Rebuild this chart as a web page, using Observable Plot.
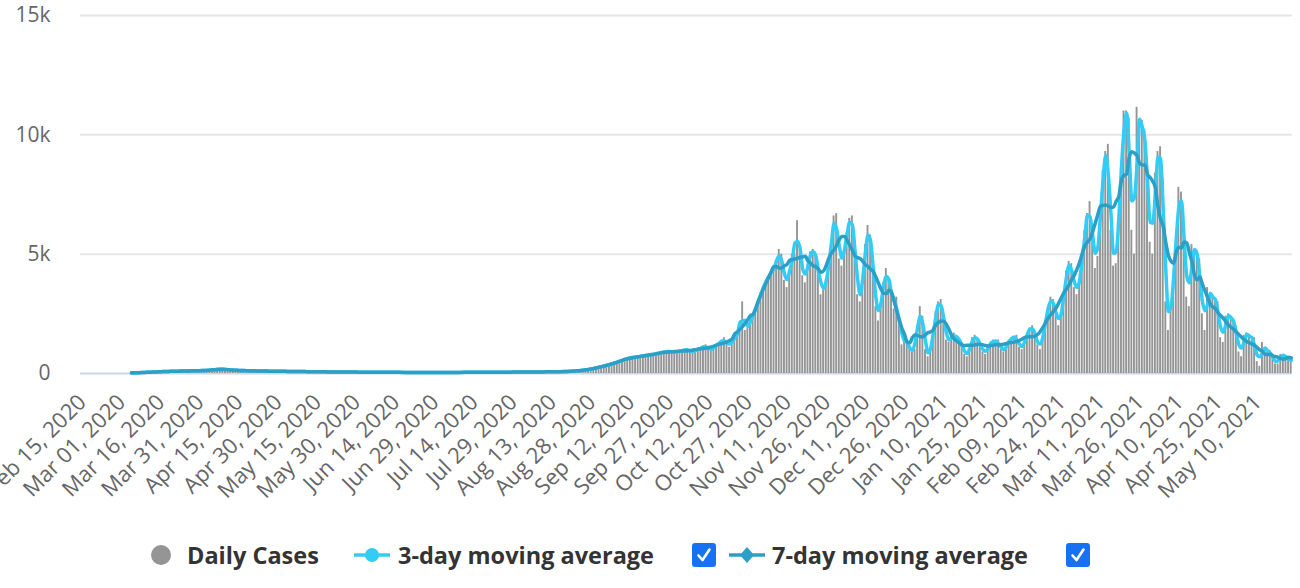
<!DOCTYPE html>
<html>
<head>
<meta charset="utf-8">
<script src="https://cdn.jsdelivr.net/npm/d3@7"></script>
<script src="https://cdn.jsdelivr.net/npm/@observablehq/plot@0.6"></script>
<style>
  html, body { margin: 0; padding: 0; background: #fff; }
  #wrap { position: relative; width: 1300px; height: 588px; overflow: hidden; font-family: "Open Sans", sans-serif; }
  #chart { position: absolute; left: 0; top: 0; }
  #legend { position: absolute; left: 0; top: 544px; width: 1300px; height: 26px; }
  #legend .sym { position: absolute; top: 0; height: 22px; }
  #legend .lbl { position: absolute; top: -3px; font-size: 23.5px; line-height: 28px; font-weight: bold; color: #333; white-space: nowrap; }
  #legend .cb { position: absolute; top: -1px; width: 24px; height: 24px; }
</style>
</head>
<body>
<div id="wrap">
  <div id="chart"></div>
  <div id="legend"></div>
</div>
<script>
// ---------------- DATA ----------------
const seriesNames = ["Daily Cases", "3-day moving average", "7-day moving average"];
const firstDay = "2020-03-05";   // first daily value
const axisStart = "2020-02-15";
const axisEnd = "2021-05-24";

// daily new cases, Mar 5 2020 - May 30 2020
const spring2020 = [
  20, 25, 30,
  35, 40, 45, 50, 55, 60, 65,
  70, 75, 80, 85, 90, 90, 95,
  95, 100, 100, 105, 105, 110, 110,
  115, 115, 120, 120, 125, 130, 135,
  145, 160, 180, 195, 190, 170, 155,
  145, 140, 135, 130, 125, 120, 120,
  115, 115, 110, 110, 105, 105, 100,
  100, 100, 95, 95, 95, 90, 90,
  90, 90, 85, 85, 85, 80, 80,
  80, 80, 75, 75, 75, 70, 70,
  70, 70, 70, 65, 65, 65, 65,
  65, 60, 60, 60, 60, 60, 60
];
// May 31 2020 - Aug 15 2020
const summer2020 = [
  55, 55, 55, 55, 55, 55, 55,
  50, 50, 50, 50, 50, 50, 50,
  50, 45, 50, 45, 45, 50, 45,
  45, 45, 45, 45, 45, 45, 45,
  45, 40, 45, 45, 40, 45, 45,
  45, 45, 45, 50, 45, 45, 50,
  50, 50, 50, 50, 50, 55, 50,
  55, 50, 55, 55, 55, 55, 55,
  55, 55, 60, 55, 60, 60, 60,
  60, 60, 60, 65, 65, 65, 65,
  65, 65, 70, 70, 70, 75, 75
];
// Aug 16 2020 - Jan 2 2021
const fall2020 = [
  75, 75, 80, 85, 90, 100, 110,
  120, 125, 135, 145, 165, 185, 205,
  240, 260, 280, 320, 340, 360, 400,
  450, 480, 500, 560, 600, 640, 650,
  700, 660, 680, 740, 760, 720, 780,
  820, 780, 800, 860, 900, 880, 920,
  960, 880, 860, 920, 950, 930, 1000,
  1050, 900, 880, 980, 1020, 1070, 1100,
  1200, 1000, 950, 1100, 1200, 1250, 1350,
  1500, 1250, 1100, 1350, 1500, 1650, 1800,
  3000, 1800, 1900, 2200, 2400, 2700, 3000,
  3400, 3600, 3900, 4100, 4200, 4400, 4600,
  5200, 5000, 3900, 3600, 4300, 5000, 5000,
  6400, 5200, 4100, 3800, 4600, 5100, 5200,
  5000, 4600, 3300, 3500, 3900, 4200, 5600,
  6600, 6700, 4800, 4500, 5200, 5900, 6500,
  6600, 5600, 3300, 3000, 3600, 5400, 6200,
  5800, 4600, 2800, 2200, 2900, 3800, 4400,
  4000, 3400, 2700, 3200, 2200, 1200, 1600,
  1300, 1000, 900, 1000, 2000, 2800, 2400
];
// Jan 3 2021 - Mar 6 2021
const winter2021 = [
  1000, 700, 900, 1600, 2600, 3000, 3100,
  2400, 1400, 1300, 1500, 1700, 1500, 1400,
  1300, 800, 700, 1000, 1500, 1600, 1400,
  1300, 900, 800, 1100, 1300, 1400, 1300,
  1400, 1000, 900, 1100, 1400, 1500, 1500,
  1600, 1100, 1000, 1300, 1700, 1900, 2000,
  1700, 1200, 1000, 1500, 2200, 2800, 3200,
  3100, 2500, 2000, 2400, 3200, 4300, 4700,
  4600, 3600, 3300, 3900, 4500, 6000, 6700
];
// Mar 7 2021 - May 23 2021
const spring2021 = [
  7200, 5800, 4400, 4900, 6600, 8500, 9300,
  9600, 6000, 4500, 4600, 6200, 8600, 11000,
  11000, 10700, 6000, 5000, 11150, 10200, 10600,
  10200, 8500, 5500, 5000, 8400, 9300, 9500,
  8200, 3000, 1800, 3000, 3600, 5500, 7800,
  7600, 6300, 3200, 2800, 5400, 5200, 5000,
  4800, 2500, 1800, 3600, 3300, 3200, 3100,
  3000, 1500, 1300, 2400, 2500, 2400, 2100,
  2000, 900, 700, 1600, 1700, 1600, 1400,
  1500, 500, 300, 1300, 1000, 900, 950,
  700, 400, 400, 800, 800, 700, 600, 500
];

const yTicks = [0, 5000, 10000, 15000];
const xTickLabels = [
  "2020-02-15", "2020-03-01", "2020-03-16", "2020-03-31", "2020-04-15", "2020-04-30",
  "2020-05-15", "2020-05-30", "2020-06-14", "2020-06-29", "2020-07-14", "2020-07-29",
  "2020-08-13", "2020-08-28", "2020-09-12", "2020-09-27", "2020-10-12", "2020-10-27",
  "2020-11-11", "2020-11-26", "2020-12-11", "2020-12-26", "2021-01-10", "2021-01-25",
  "2021-02-09", "2021-02-24", "2021-03-11", "2021-03-26", "2021-04-10", "2021-04-25",
  "2021-05-10"
];

// ---------------- BUILD ----------------
const colors = { bars: "#959595", ma3: "#33ccf5", ma7: "#2b9fc6" };
const allCases = [].concat(spring2020, summer2020, fall2020, winter2021, spring2021);
const start = new Date(firstDay + "T00:00:00Z");
const rows = allCases.map((cases, i) => {
  const date = d3.utcDay.offset(start, i);
  return { date, mid: d3.utcHour.offset(date, 12), cases };
});
const tickDates = xTickLabels.map(s => new Date(s + "T00:00:00Z"));
const fmtDate = d3.utcFormat("%b %d, %Y");

const chart = Plot.plot({
  width: 1300,
  height: 520,
  marginLeft: 80,
  marginRight: 8,
  marginTop: 15,
  marginBottom: 147,
  style: { fontFamily: "'Open Sans', sans-serif", background: "transparent", overflow: "visible" },
  x: { type: "utc", domain: [new Date(axisStart + "T00:00:00Z"), new Date(axisEnd + "T00:00:00Z")] },
  y: { domain: [0, 15000] },
  marks: [
    Plot.gridY(yTicks.slice(1), { stroke: "#e6e6e6", strokeOpacity: 1, strokeWidth: 2 }),
    Plot.ruleY([0], { stroke: "#ccd6eb", strokeWidth: 2 }),
    Plot.rectY(rows, { x: "date", y: "cases", interval: d3.utcDay, fill: colors.bars, insetLeft: 0.35, insetRight: 0.35 }),
    Plot.lineY(rows, Plot.windowY({ k: 3, anchor: "middle" }, { x: "mid", y: "cases", stroke: colors.ma3, strokeWidth: 3.5, curve: "monotone-x" })),
    Plot.lineY(rows, Plot.windowY({ k: 7, anchor: "middle" }, { x: "mid", y: "cases", stroke: colors.ma7, strokeWidth: 3.5, curve: "monotone-x" })),
    Plot.axisY({ ticks: yTicks, tickSize: 0, tickPadding: 30, fontSize: 21, fill: "#666", label: null,
      tickFormat: d => d === 0 ? "0" : (d / 1000) + "k" }),
    Plot.axisX({ ticks: tickDates, tickSize: 0, tickPadding: 25, tickRotate: -45, dx: 2, fontSize: 22, fill: "#666", label: null,
      tickFormat: d => fmtDate(d) })
  ]
});
document.getElementById("chart").appendChild(chart);

// ---------------- LEGEND ----------------
const legend = document.getElementById("legend");
function add(html, cls, left) {
  const el = document.createElement("span");
  el.className = cls;
  el.style.left = left + "px";
  el.innerHTML = html;
  legend.appendChild(el);
  return el;
}
const checkbox = `<svg width="24" height="24"><rect x="0" y="0" width="24" height="24" rx="3" fill="#1672f3"/><path d="M6.5 12.5 L10.5 17 L17.5 6.5" fill="none" stroke="#fff" stroke-width="2.6" stroke-linecap="round" stroke-linejoin="round"/></svg>`;
add(`<svg width="22" height="22"><circle cx="11" cy="11" r="10" fill="${colors.bars}"/></svg>`, "sym", 150);
add(seriesNames[0], "lbl", 187);
add(`<svg width="36" height="22"><line x1="0" y1="11" x2="36" y2="11" stroke="${colors.ma3}" stroke-width="3.5"/><circle cx="18" cy="11" r="7" fill="${colors.ma3}"/></svg>`, "sym", 354);
add(seriesNames[1], "lbl", 398);
add(checkbox, "cb", 692);
add(`<svg width="36" height="22"><line x1="0" y1="11" x2="36" y2="11" stroke="${colors.ma7}" stroke-width="3.5"/><path d="M18 3 L25 11 L18 19 L11 11 Z" fill="${colors.ma7}"/></svg>`, "sym", 729);
add(seriesNames[2], "lbl", 772);
add(checkbox, "cb", 1066);
</script>
</body>
</html>
